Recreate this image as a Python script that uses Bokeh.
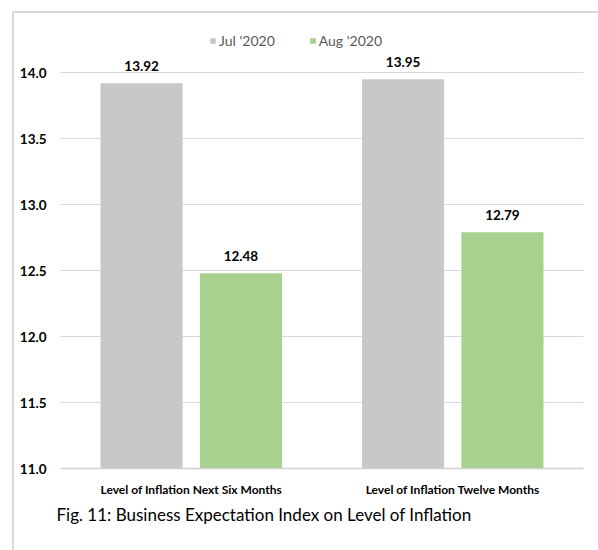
from bokeh.plotting import figure
from bokeh.models import (ColumnDataSource, FactorRange, Range1d, Legend, LegendItem,
                          Title, NumeralTickFormatter, FixedTicker)
from bokeh.transform import dodge
from bokeh.core.properties import value
from bokeh.embed import file_html
from bokeh.resources import INLINE

categories = ["Level of Inflation Next Six Months", "Level of Inflation Twelve Months"]
series_names = ["Jul '2020", "Aug '2020"]
jul_2020 = [13.92, 13.95]
aug_2020 = [12.48, 12.79]
y_ticks = [11.0, 11.5, 12.0, 12.5, 13.0, 13.5, 14.0]
title_text = "Fig. 11: Business Expectation Index on Level of Inflation"

FONT = "Lato"
GRAY = "#C8C8C8"
GREEN = "#A9D18E"

src = ColumnDataSource(dict(
    cat=categories,
    jul=jul_2020,
    aug=aug_2020,
    jul_txt=[f"{v:.2f}" for v in jul_2020],
    aug_txt=[f"{v:.2f}" for v in aug_2020],
))

p = figure(width=598, height=550, x_range=FactorRange(*categories),
           y_range=Range1d(11.0, 14.32), output_backend="svg", toolbar_location=None,
           min_border_left=60, min_border_right=15, min_border_top=30, min_border_bottom=82)
p.outline_line_color = None
p.background_fill_color = "white"
p.border_fill_alpha = 0
p.styles = {
    "background-color": "white",
    "background-image": "linear-gradient(#D9D9D9, #D9D9D9), linear-gradient(#D9D9D9, #D9D9D9)",
    "background-position": "12px 11px, 12px 11px",
    "background-size": "100% 2px, 2px 100%",
    "background-repeat": "no-repeat, no-repeat",
}

off = 0.19
bw = 0.314
r1 = p.vbar(x=dodge("cat", -off, range=p.x_range), top="jul", bottom=11.0, width=bw,
            source=src, fill_color=GRAY, line_color=None)
r2 = p.vbar(x=dodge("cat", off, range=p.x_range), top="aug", bottom=11.0, width=bw,
            source=src, fill_color=GREEN, line_color=None)

for col, txt, o in (("jul", "jul_txt", -off), ("aug", "aug_txt", off)):
    p.text(x=dodge("cat", o, range=p.x_range), y=col, text=txt, source=src,
           text_align="center", text_baseline="alphabetic", y_offset=-17,
           text_font=value(FONT), text_font_size="13.5px", text_font_style="bold",
           text_color="#000000")

# axes
p.yaxis.ticker = FixedTicker(ticks=y_ticks)
p.yaxis.formatter = NumeralTickFormatter(format="0.0")
p.yaxis.axis_line_color = None
p.yaxis.major_tick_line_color = None
p.yaxis.minor_tick_line_color = None
p.yaxis.major_label_text_font = FONT
p.yaxis.major_label_text_font_size = "13.5px"
p.yaxis.major_label_text_font_style = "bold"
p.yaxis.major_label_text_color = "#000000"
p.yaxis.major_label_standoff = 8

p.xaxis.axis_line_color = "#D0D0D0"
p.xaxis.axis_line_width = 1.5
p.xaxis.major_tick_line_color = None
p.xaxis.minor_tick_line_color = None
p.xaxis.major_label_text_font = FONT
p.xaxis.major_label_text_font_size = "12px"
p.xaxis.major_label_text_font_style = "bold"
p.xaxis.major_label_text_color = "#000000"
p.xaxis.major_label_standoff = 7

p.xgrid.grid_line_color = None
p.ygrid.grid_line_color = "#D9D9D9"
p.ygrid.grid_line_width = 1

# legend (inside the frame, above the 14.0 grid line)
legend = Legend(items=[LegendItem(label=series_names[0], renderers=[r1]),
                       LegendItem(label=series_names[1], renderers=[r2])],
                location=(149, 419), orientation="horizontal",
                padding=0, margin=0, spacing=34, label_standoff=3,
                glyph_width=7, glyph_height=7,
                border_line_color=None, background_fill_alpha=0,
                label_text_font=FONT, label_text_font_size="14px",
                label_text_color="#595959", label_height=16)
p.add_layout(legend, "center")

# title below
t = Title(text=title_text, align="left", offset=-4, text_font=FONT,
          text_font_size="17px", text_font_style="normal", text_color="#000000",
          standoff=5)
p.add_layout(t, "below")

open("out.html", "w").write(file_html(p, INLINE))
